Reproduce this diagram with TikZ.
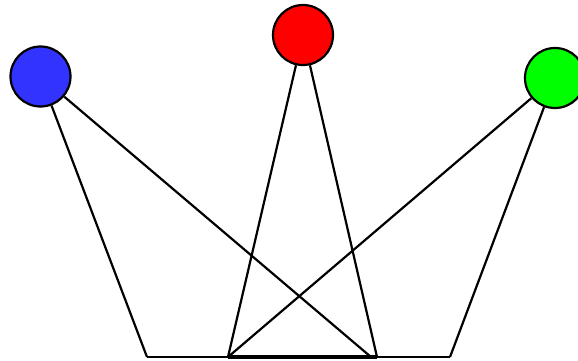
\documentclass[tikz,border=0pt]{standalone}
\definecolor{cblue}{RGB}{51,51,255}
\definecolor{cred}{RGB}{255,0,0}
\definecolor{cgreen}{RGB}{0,255,0}
\begin{document}
\begin{tikzpicture}[x=1pt,y=-1pt,
  ball/.style={circle,draw=black,line width=2.2pt,minimum size=60pt,inner sep=0pt},
  edge/.style={line width=2.2pt,black}]
\useasboundingbox (0,0) rectangle (578,361);
\node[ball,fill=cblue] (B) at (40.5,76.5) {};
\node[ball,fill=cred] (R) at (303,35) {};
\node[ball,fill=cgreen] (G) at (555,78) {};
\coordinate (p1) at (147,357);
\coordinate (p2) at (228,357);
\coordinate (p3) at (377,357);
\coordinate (p3b) at (371,357);
\coordinate (p4) at (450,357);
\draw[edge] (B) -- (p1);
\draw[edge] (B) -- (p3b);
\draw[edge] (R) -- (p2);
\draw[edge] (R) -- (p3);
\draw[edge] (G) -- (p2);
\draw[edge] (G) -- (p4);
\draw[edge] (p1) -- (p4);
\draw[edge,line width=3.2pt] (p2) -- (p3);
\end{tikzpicture}
\end{document}
